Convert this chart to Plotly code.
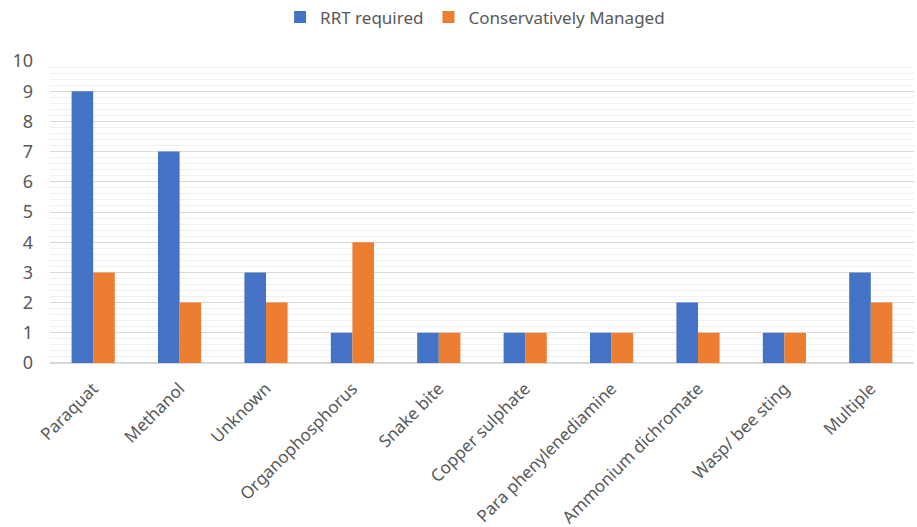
import plotly.graph_objects as go

categories = ["Paraquat", "Methanol", "Unknown", "Organophosphorus", "Snake bite",
              "Copper sulphate", "Para phenylenediamine", "Ammonium dichromate",
              "Wasp/ bee sting", "Multiple"]
rrt_required = [9, 7, 3, 1, 1, 1, 1, 2, 1, 3]
conservatively_managed = [3, 2, 2, 4, 1, 1, 1, 1, 1, 2]
y_ticks = [0, 1, 2, 3, 4, 5, 6, 7, 8, 9, 10]

fig = go.Figure()
fig.add_trace(go.Bar(x=categories, y=rrt_required, name="RRT required",
                     marker=dict(color="#4472C4", line=dict(width=0))))
fig.add_trace(go.Bar(x=categories, y=conservatively_managed, name="Conservatively Managed",
                     marker=dict(color="#ED7D31", line=dict(width=0))))

font_family = "Noto Sans, Open Sans, sans-serif"
fig.update_layout(
    width=917, height=527,
    paper_bgcolor="white", plot_bgcolor="white",
    margin=dict(l=50, r=3, t=61, b=164),
    barmode="group", bargap=0.5, bargroupgap=0,
    font=dict(family=font_family, color="#595959", size=17),
    legend=dict(orientation="h", x=0.492, xanchor="center", yref="container", y=0.967,
                yanchor="middle", font=dict(size=17, color="#595959"),
                itemwidth=30, traceorder="normal"),
    showlegend=True,
)
fig.update_xaxes(tickangle=-45, showgrid=False, showline=False, ticks="outside",
                 ticklen=8, tickcolor="rgba(0,0,0,0)", automargin=False,
                 tickfont=dict(size=17, color="#595959"))
fig.update_yaxes(range=[0, 10], tickvals=y_ticks, showgrid=True, gridcolor="#D9D9D9",
                 gridwidth=1, zeroline=True, zerolinecolor="#D9D9D9", zerolinewidth=1.5,
                 automargin=False,
                 minor=dict(dtick=0.2, showgrid=True, gridcolor="#F0F0F0", gridwidth=1),
                 ticklabelstandoff=16, tickfont=dict(size=18, color="#595959"))

fig.write_html("out.html")
